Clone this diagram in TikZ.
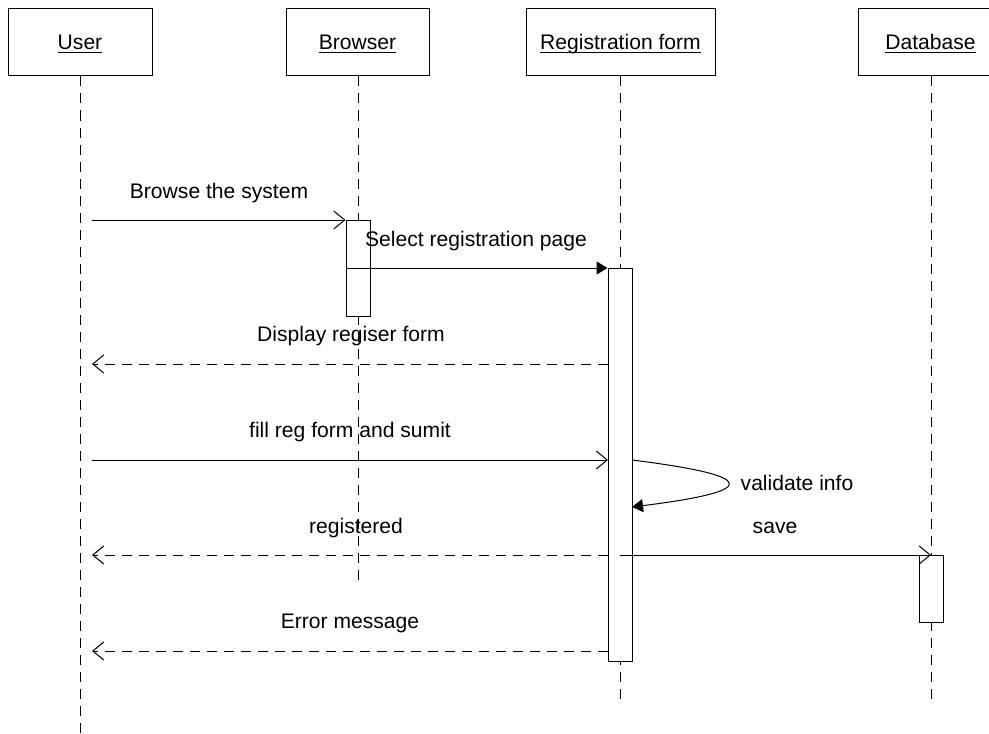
\documentclass[tikz,border=0pt]{standalone}
\usepackage{fontspec}
\setmainfont{Liberation Sans}
\usetikzlibrary{arrows.meta}
\newcommand\hdrul[1]{\setbox0\hbox{#1}\rlap{\rule[-1.3pt]{\wd0}{0.5pt}}\box0}
\begin{document}
\begin{tikzpicture}[x=0.5pt,y=-0.5pt,
  every node/.style={font=\fontsize{10.55}{12}\selectfont, inner sep=0pt},
  headbox/.style={draw, line width=0.5pt, fill=white, minimum height=33.5pt, text height=9pt, text depth=1.5pt},
  lifeline/.style={line width=0.5pt, dash pattern=on 5pt off 3.5pt},
  actbox/.style={draw, line width=0.5pt, fill=white, minimum width=12pt, anchor=north},
  callmsg/.style={line width=0.5pt, -{Straight Barb[length=5.5pt,width=9pt]}},
  syncmsg/.style={line width=0.5pt, -{Triangle[length=5.5pt,width=6.5pt]}},
  retmsg/.style={line width=0.5pt, dash pattern=on 5pt off 3.5pt, -{Straight Barb[length=5.5pt,width=9pt]}},
  msglabel/.style={anchor=base}
]
\useasboundingbox (0,0) rectangle (989,733);
\clip (0,0) rectangle (989,733);

% header boxes
\node[headbox, minimum width=72pt] (user) at (80,42.5) {\hdrul{User}};
\node[headbox, minimum width=71.5pt] (browser) at (357.5,42.5) {\hdrul{Browser}};
\node[headbox, minimum width=94.5pt] (regform) at (620.5,42.5) {\hdrul{Registration form}};
\node[headbox, minimum width=72.5pt] (db) at (930.5,42.5) {\hdrul{Database}};

% lifeline ends
\coordinate (userEnd) at (80,733);
\coordinate (browserEnd) at (358,585);
\coordinate (regEnd) at (620,699);
\coordinate (dbEnd) at (931,699);

\draw[lifeline] (user.south) -- (userEnd);
\draw[lifeline] (browser.south -| browserEnd) -- (browserEnd);
\draw[lifeline] (regform.south -| regEnd) -- (regEnd);
\draw[lifeline] (db.south -| dbEnd) -- (dbEnd);

% activations
\node[actbox, minimum height=48pt] (bact) at (358,220) {};
\node[actbox, minimum height=196.5pt] (ract) at (620,267.5) {};
\node[actbox, minimum height=33.5pt] (dact) at (931,555) {};

% message coordinates
\coordinate (u1) at (92,220);
\coordinate (u3) at (92,364);
\coordinate (u4) at (92,460);
\coordinate (u6) at (92,555);
\coordinate (u8) at (92,651);
\coordinate (r3) at (608,364);
\coordinate (r4) at (608,460);
\coordinate (r6) at (608,555);
\coordinate (r8) at (608,651);
\coordinate (s1) at (632,460);
\coordinate (s2) at (632,507);
\coordinate (sv) at (620,555);
\coordinate (dv) at (931,555);

% messages
\draw[callmsg] (u1) -- (bact.north west);
\node[msglabel] (l1) at (219,198.3) {Browse the system};

\draw[syncmsg] (bact.west |- 0,268) -- (ract.west |- 0,268);
\node[msglabel] (l2) at (476,246) {Select registration page};

\draw[retmsg] (r3) -- (u3);
\node[msglabel] (l3) at (351,341.7) {Display regiser form};

\draw[callmsg] (u4) -- (r4);
\node[msglabel] (l4) at (350,437.5) {fill reg form and sumit};

\draw[syncmsg] (s1) .. controls (760,476) and (760,491) .. (s2);
\node[msglabel] (l5) at (797,490) {validate info};

\draw[retmsg] (r6) -- (u6);
\node[msglabel] (l6) at (356,533.5) {registered};

\draw[callmsg] (sv) -- (dv);
\node[msglabel] (l7) at (775,533.5) {save};

\draw[retmsg] (r8) -- (u8);
\node[msglabel] (l8) at (350,628.5) {Error message};
\end{tikzpicture}
\end{document}
